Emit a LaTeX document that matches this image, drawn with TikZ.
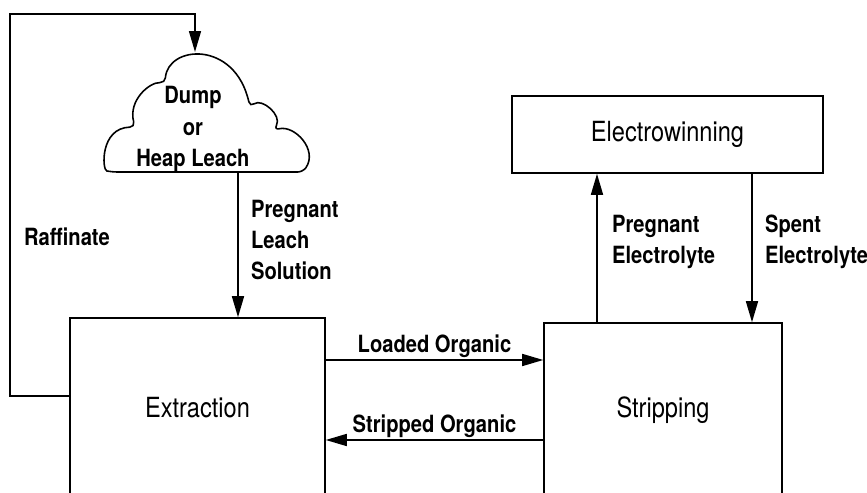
\documentclass[tikz,border=0pt]{standalone}
\usepackage{fontspec}
\setmainfont{TeX Gyre Heros}[FakeStretch=0.85]
\usetikzlibrary{arrows.meta, positioning, calc}
\tikzset{
  sx box/.style={
    rectangle, draw=black, line width=0.9pt, fill=white,
    font=\fontsize{15.8}{19}\selectfont, inner sep=2pt
  },
  sx arrow/.style={
    -{Triangle[length=4.2mm,width=2.4mm]}, line width=0.9pt, draw=black
  },
  sx label/.style={
    font=\bfseries\fontsize{13.5}{17.8}\selectfont, align=left, inner sep=1pt
  }
}

\begin{document}
\begin{tikzpicture}[x=0.02cm, y=-0.02cm]
\useasboundingbox (0,0) rectangle (867,493);
\clip (0,0) rectangle (867,493);

% ====== Heap leach cloud ======
\draw[line width=0.9pt, rounded corners=3pt]
  (112,172) .. controls (102,170) and (100,128) .. (135,127)
  .. controls (128,100) and (150,82) .. (165,83)
  .. controls (168,45) and (235,40) .. (250,107)
  .. controls (262,98) and (282,115) .. (274,130)
  .. controls (295,125) and (318,150) .. (303,172) -- cycle;
\node[sx label, align=center, inner sep=0pt] (heap) at (193,129) {Dump\\or\\Heap Leach};
\coordinate (heap top) at (195,52);
\coordinate (heap bottom) at (238,172);

% ====== Process boxes ======
\node[sx box, minimum width=5.1cm, minimum height=3.6cm] (extraction) at (197.5,408) {Extraction};
\node[sx box, minimum width=4.76cm, minimum height=3.48cm] (stripping) at (663,410) {Stripping};
\node[sx box, minimum width=6.22cm, minimum height=1.54cm] (electro) at (667.5,134.5) {Electrowinning};

% -- raffinate loop --
\coordinate (loop corner) at (10,14);
\draw[sx arrow] (extraction.west |- 0,396) -| (loop corner) -| (heap top);
\node[sx label, anchor=west] (raff) at (22,237) {Raffinate};

% -- leach solution --
\draw[sx arrow] (heap bottom) -- (heap bottom |- extraction.north);
\node[sx label, anchor=west] (pls) at (249,240) {Pregnant\\Leach\\Solution};

% -- organic circuit --
\draw[sx arrow] (extraction.east |- 0,360) -- (stripping.west |- 0,360)
  node[sx label, midway, above] (loaded) {Loaded Organic};
\draw[sx arrow] (stripping.west |- 0,440) -- (extraction.east |- 0,440)
  node[sx label, midway, above] (stripped) {Stripped Organic};

% -- electrolyte circuit --
\draw[sx arrow] (stripping.north -| 597,0) -- (electro.south -| 597,0);
\node[sx label, anchor=west] (pe) at (610,242) {Pregnant\\Electrolyte};
\draw[sx arrow] (electro.south -| 752,0) -- (stripping.north -| 752,0);
\node[sx label, anchor=west] (se) at (763,242) {Spent\\Electrolyte};

\end{tikzpicture}
\end{document}
